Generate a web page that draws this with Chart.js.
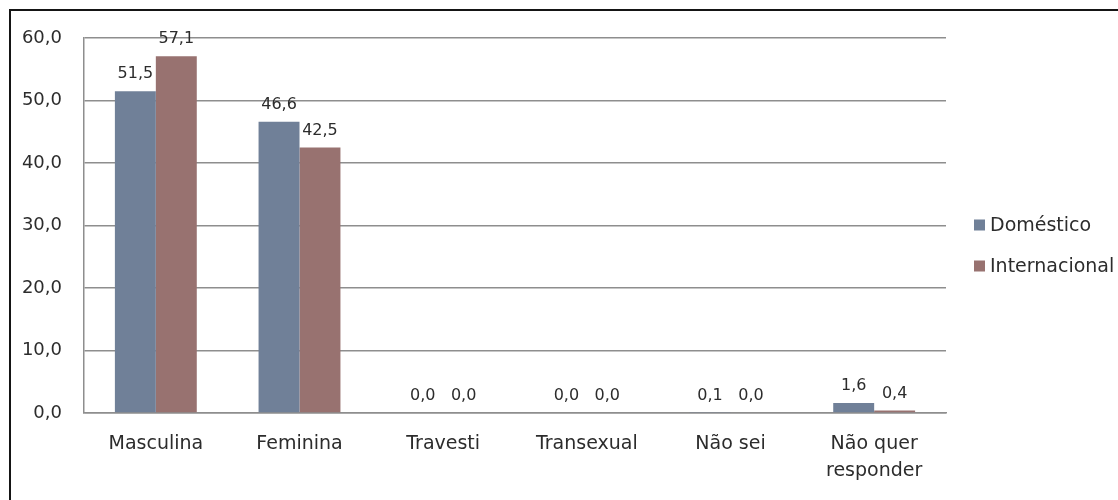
<!DOCTYPE html>
<html>
<head>
<meta charset="utf-8">
<script src="https://cdn.jsdelivr.net/npm/chart.js@4"></script>
<style>
    html, body { margin: 0; padding: 0; background: #fff; }
    #frame {
        position: absolute;
        left: 9px;
        top: 9px;
        width: 1200px;
        height: 600px;
        border-top: 2px solid #151515;
        border-left: 2px solid #151515;
        pointer-events: none;
    }
</style>
</head>
<body>
<canvas id="grafico" width="1118" height="500"></canvas>
<div id="frame"></div>
<script>
const categorias = ['Masculina', 'Feminina', 'Travesti', 'Transexual', 'Não sei', ['Não quer', 'responder']];
const domestico = [51.5, 46.6, 0.0, 0.0, 0.1, 1.6];
const internacional = [57.1, 42.5, 0.0, 0.0, 0.0, 0.4];
const series = ['Doméstico', 'Internacional'];
const cores = ['#708098', '#987270'];

const corTexto = '#2c2c2c';
const corGrade = '#8e8e8e';
const fonte = 'DejaVu Sans';

function formatar(v) {
    return v.toFixed(1).replace('.', ',');
}

// rótulos de valor acima de cada barra
const rotulosValor = {
    id: 'rotulosValor',
    afterDatasetsDraw(chart) {
        const ctx = chart.ctx;
        ctx.save();
        ctx.font = '16px "' + fonte + '"';
        ctx.fillStyle = corTexto;
        ctx.textAlign = 'center';
        ctx.textBaseline = 'bottom';
        chart.data.datasets.forEach((ds, i) => {
            chart.getDatasetMeta(i).data.forEach((bar, j) => {
                ctx.fillText(formatar(ds.data[j]), bar.x, bar.y - 9);
            });
        });
        ctx.restore();
    }
};

// legenda à direita da área do gráfico
const legendaLateral = {
    id: 'legendaLateral',
    afterDraw(chart) {
        const ctx = chart.ctx;
        const x = chart.chartArea.right + 28;
        const ys = [225, 266];
        ctx.save();
        ctx.font = '19px "' + fonte + '"';
        ctx.textBaseline = 'middle';
        ctx.textAlign = 'left';
        chart.data.datasets.forEach((ds, i) => {
            ctx.fillStyle = ds.backgroundColor;
            ctx.fillRect(x, ys[i] - 5.5, 11, 11);
            ctx.fillStyle = corTexto;
            ctx.fillText(ds.label, x + 16, ys[i] + 1);
        });
        ctx.restore();
    }
};

const ctx = document.getElementById('grafico').getContext('2d');
new Chart(ctx, {
    type: 'bar',
    data: {
        labels: categorias,
        datasets: [{
            label: series[0],
            data: domestico,
            backgroundColor: cores[0],
            borderWidth: 0
        }, {
            label: series[1],
            data: internacional,
            backgroundColor: cores[1],
            borderWidth: 0
        }]
    },
    options: {
        responsive: false,
        animation: false,
        devicePixelRatio: 1,
        layout: {
            padding: { left: 0, right: 172, top: 38, bottom: 0 }
        },
        datasets: {
            bar: {
                categoryPercentage: 0.57,
                barPercentage: 1.0
            }
        },
        scales: {
            x: {
                grid: { display: false, drawTicks: false },
                border: { display: true, color: corGrade, width: 1.5 },
                ticks: {
                    color: corTexto,
                    font: { family: fonte, size: 19, lineHeight: 1.4 },
                    padding: 18,
                    maxRotation: 0,
                    autoSkip: false
                },
                afterFit(scale) {
                    scale.height = 87;
                }
            },
            y: {
                min: 0,
                max: 60,
                grid: { color: corGrade, lineWidth: 1.5, drawTicks: false },
                border: { display: true, color: corGrade, width: 1.5 },
                ticks: {
                    stepSize: 10,
                    color: corTexto,
                    font: { family: fonte, size: 18 },
                    padding: 22,
                    callback: v => formatar(v)
                },
                afterFit(scale) {
                    scale.width = 84;
                }
            }
        },
        plugins: {
            legend: { display: false },
            tooltip: { enabled: false }
        }
    },
    plugins: [rotulosValor, legendaLateral]
});
</script>
</body>
</html>
